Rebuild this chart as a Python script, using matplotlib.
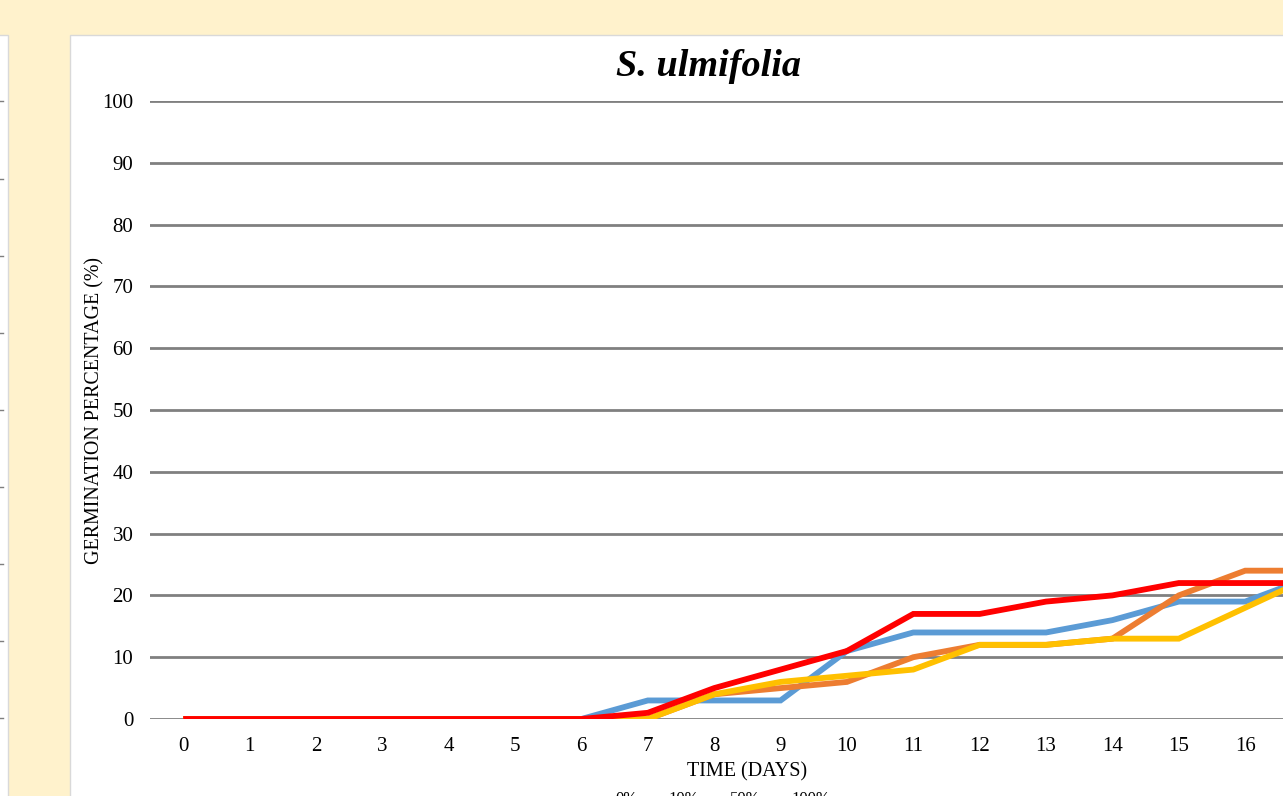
import matplotlib.pyplot as plt
from matplotlib.patches import Rectangle
from matplotlib.lines import Line2D

# =========================
# Data
# =========================
days = list(range(0, 18))
germ_0 = [0, 0, 0, 0, 0, 0, 0, 3, 3, 3, 11, 14, 14, 14, 16, 19, 19, 23]
germ_10 = [0, 0, 0, 0, 0, 0, 0, 0, 4, 5, 6, 10, 12, 12, 13, 20, 24, 24]
germ_50 = [0, 0, 0, 0, 0, 0, 0, 0, 4, 6, 7, 8, 12, 12, 13, 13, 18, 23]
germ_100 = [0, 0, 0, 0, 0, 0, 0, 1, 5, 8, 11, 17, 17, 19, 20, 22, 22, 22]

series_labels = ["0%", "10%", "50%", "100%"]
series_colors = ["#5B9BD5", "#ED7D31", "#FFC000", "#FF0000"]

plt.rcParams["font.family"] = ["Liberation Serif", "DejaVu Serif"]

W, H = 1283, 796
fig = plt.figure(figsize=(W / 100, H / 100), dpi=100)
fig.patch.set_facecolor("#FFF2CC")

# =========================
# Background panels
# =========================
fig.add_artist(Rectangle((70 / W, -0.05), 1.2, (796 - 35) / H + 0.05,
                         transform=fig.transFigure, facecolor="white",
                         edgecolor="#D9D9D9", linewidth=1, zorder=-2))
fig.add_artist(Rectangle((-0.05, -0.05), 0.05 + 8 / W, (796 - 35) / H + 0.05,
                         transform=fig.transFigure, facecolor="white",
                         edgecolor="#D9D9D9", linewidth=1, zorder=-2))
for yp in [101, 179, 256, 333, 410, 487, 564, 641, 718]:
    fig.add_artist(Line2D([0, 2.5 / W], [1 - yp / H] * 2, transform=fig.transFigure,
                          color="#7F7F7F", linewidth=1, zorder=-1))

# =========================
# Axes
# =========================
x_left, x_right = 150, 150 + 18 * 66.375
y_bottom, y_top = 719, 101
ax = fig.add_axes([x_left / W, 1 - y_bottom / H,
                   (x_right - x_left) / W, (y_bottom - y_top) / H])
ax.set_facecolor("none")

for vals, lab, col in zip([germ_0, germ_10, germ_50, germ_100], series_labels, series_colors):
    ax.plot(days, vals, color=col, linewidth=4.2, label=lab, solid_capstyle="butt",
            solid_joinstyle="miter", zorder=3)

ax.set_xlim(-0.5, 17.5)
ax.set_ylim(0, 100)
ax.set_xticks(days)
ax.set_yticks(range(0, 101, 10))
ax.grid(axis="y", color="#808080", linewidth=2.0)
ax.set_axisbelow(True)
for s in ax.spines.values():
    s.set_visible(False)
ax.tick_params(length=0, labelsize=15, colors="#000000")
ax.tick_params(axis="y", pad=12)
ax.tick_params(axis="x", pad=13)

ax.set_xlabel("TIME (DAYS)", fontsize=14.5)
ax.xaxis.set_label_coords(0.5, -(762 - y_bottom) / (y_bottom - y_top))
ax.set_ylabel("GERMINATION PERCENTAGE (%)", fontsize=14.4)
ax.yaxis.set_label_coords(-(150 - 104) / (x_right - x_left), 0.5)

fig.text(709 / W, 1 - 66 / H, "S. ulmifolia", fontsize=27.5, fontweight="bold",
         fontstyle="italic", ha="center", va="center")

leg = fig.legend(loc="upper center", ncol=4, frameon=False, fontsize=12,
                 bbox_to_anchor=(712 / W, 1 - 791 / H), borderaxespad=0, borderpad=0,
                 handlelength=1.0, columnspacing=0.5, handletextpad=0.35)
for h in leg.legend_handles:
    h.set_linewidth(2.5)

fig.savefig("out.png", dpi=100, facecolor=fig.get_facecolor())
